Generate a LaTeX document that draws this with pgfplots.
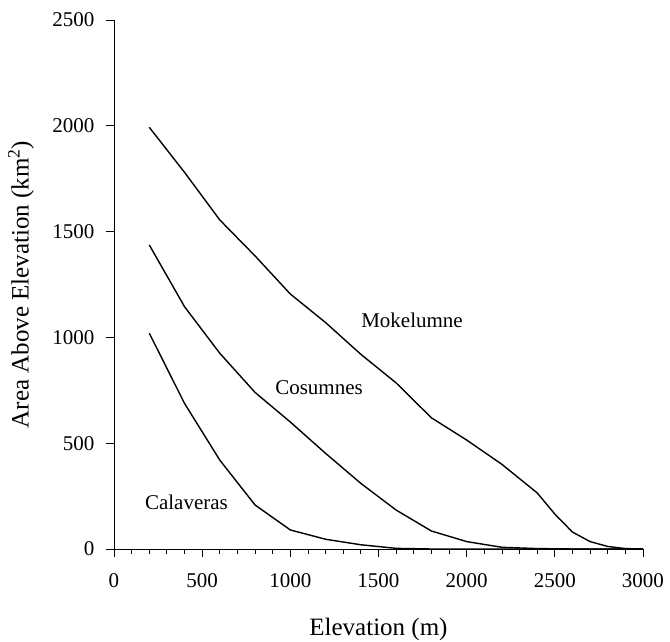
\documentclass[border=0pt]{standalone}
\usepackage{fontspec}
\setmainfont{Liberation Serif}
\usepackage{pgfplots}
\pgfplotsset{compat=1.18}
\begin{document}
\begin{tikzpicture}[font=\fontsize{21}{25}\selectfont]
\useasboundingbox (-114pt,-93pt) rectangle (556pt,549pt);
\begin{axis}[
scale only axis,
width=529pt,
height=529pt,
xmin=0, xmax=3000,
ymin=0, ymax=2500,
axis lines=left,
axis line style={-, line width=0.8pt},
xtick={0,500,...,3000},
minor xtick={0,100,...,3000},
ytick={0,500,...,2500},
tick align=outside,
major tick length=8pt,
minor tick length=5pt,
every tick/.style={black, line width=0.8pt},
/pgf/number format/assume math mode=true,
/pgf/number format/1000 sep={},
xticklabel style={yshift=-13pt},
yticklabel style={xshift=-8pt},
xlabel={Elevation (m)},
ylabel={Area Above Elevation (km\textsuperscript{2})},
label style={font=\fontsize{25}{30}\selectfont},
xlabel style={at={(axis description cs:0.5,0)}, anchor=base, yshift=-87pt},
ylabel style={at={(axis description cs:0,0.5)}, anchor=center, yshift=93pt},
clip=false,
]
\addplot[black, line width=1.4pt] coordinates {
(200,1993) (400,1780) (600,1555) (800,1385) (1000,1205) (1200,1070)
(1400,920) (1600,785) (1800,620) (2000,515) (2200,400) (2400,265)
(2500,165) (2600,80) (2700,35) (2800,12) (2900,2) (3000,0)
};
\addplot[black, line width=1.4pt] coordinates {
(200,1437) (400,1145) (600,925) (800,740) (1000,600) (1200,452)
(1400,310) (1600,184) (1800,85) (2000,35) (2200,8) (2400,2)
(2600,0) (2800,0) (3000,0)
};
\addplot[black, line width=1.4pt] coordinates {
(200,1020) (400,688) (600,420) (800,208) (1000,90) (1200,46)
(1400,20) (1600,3) (1800,0) (2000,0) (2500,0) (3000,0)
};
\node[anchor=base] at (axis cs:1690,1049) {Mokelumne};
\node[anchor=base] at (axis cs:1163,728) {Cosumnes};
\node[anchor=base] at (axis cs:411,189) {Calaveras};
\end{axis}
\end{tikzpicture}
\end{document}
